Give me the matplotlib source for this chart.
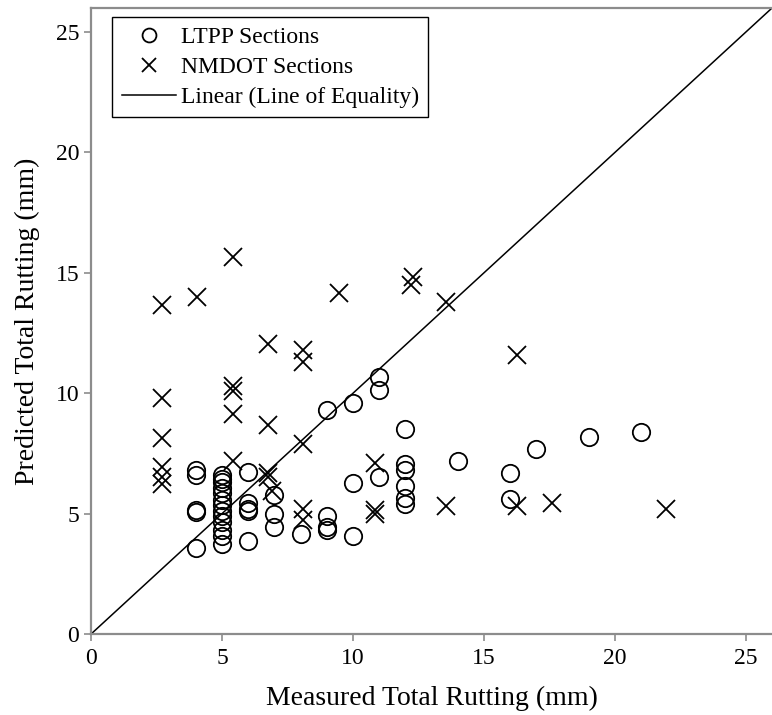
import numpy as np
import matplotlib.pyplot as plt

plt.rcParams['font.family'] = ['Liberation Serif', 'DejaVu Serif']

# LTPP sections (measured, predicted) in mm
ltpp_x = [4, 4, 4, 4, 4,
          5, 5, 5, 5, 5, 5, 5, 5, 5, 5, 5, 5, 5,
          6, 6, 6, 6, 6,
          7, 7, 7, 8,
          9, 9, 9, 9,
          10, 10, 10,
          11, 11, 11,
          12, 12, 12, 12, 12, 12,
          14, 16, 16, 17, 19, 21]
ltpp_y = [6.82, 6.62, 5.16, 5.08, 3.56,
          6.61, 6.45, 6.3, 6.06, 5.85, 5.57, 5.37, 5.09, 4.88, 4.67, 4.33, 4.05, 3.75,
          6.72, 5.44, 5.2, 5.12, 3.88,
          5.78, 5.0, 4.45, 4.15,
          9.32, 4.9, 4.46, 4.33,
          9.6, 6.28, 4.05,
          10.68, 10.15, 6.5,
          8.5, 7.05, 6.8, 6.13, 5.64, 5.4,
          7.2, 6.68, 5.6, 7.68, 8.17, 8.38]

# NMDOT sections
nmdot_x = [2.7, 2.7, 2.7, 2.7, 2.7, 2.7,
           4.05,
           5.4, 5.4, 5.4, 5.4, 5.4,
           6.75, 6.75, 6.75, 6.75, 6.9,
           8.1, 8.1, 8.1, 8.1, 8.1,
           9.45,
           10.85, 10.85, 10.85,
           12.2, 12.3,
           13.55, 13.55,
           16.25, 16.25,
           17.6, 21.95]
nmdot_y = [13.65, 9.82, 8.12, 6.95, 6.5, 6.25,
           14.0,
           15.65, 10.3, 10.08, 9.12, 7.17,
           12.05, 8.7, 6.68, 6.5, 5.92,
           11.78, 11.3, 7.9, 5.2, 4.75,
           14.15,
           7.1, 5.15, 5.0,
           14.5, 14.82,
           13.77, 5.3,
           11.58, 5.3,
           5.45, 5.18]

eq_x = [0, 26]
eq_y = [0, 26]

fig = plt.figure(figsize=(7.72, 7.15), dpi=100)
ax = fig.add_axes([0.118, 0.1133, 0.882, 0.8755])

ax.plot(ltpp_x, ltpp_y, 'o', mfc='none', mec='k', ms=12.5, mew=1.3,
        label='LTPP Sections')
ax.plot(nmdot_x, nmdot_y, 'x', color='k', ms=12.5, mew=1.3,
        label='NMDOT Sections')
ax.plot(eq_x, eq_y, '-', color='k', lw=1.1, label='Linear (Line of Equality)')

ax.set_xlim(0, 26)
ax.set_ylim(0, 26)
ax.set_xticks(np.arange(0, 26, 5))
ax.set_yticks(np.arange(0, 26, 5))

for s in ['left', 'bottom', 'top']:
    ax.spines[s].set_color('#8c8c8c')
    ax.spines[s].set_linewidth(1.6)
ax.spines['right'].set_visible(False)
ax.tick_params(colors='#8c8c8c', labelcolor='k', width=1.2, length=5,
               labelsize=17)
ax.tick_params(axis='x', pad=5)

ax.set_xlabel('Measured Total Rutting (mm)', fontsize=20, labelpad=12)
ax.set_ylabel('Predicted Total Rutting (mm)', fontsize=20, labelpad=11)

leg = ax.legend(loc='upper left', bbox_to_anchor=(0.031, 0.985), fontsize=17,
                fancybox=False, edgecolor='k', framealpha=1, markerscale=0.8,
                handlelength=2.3, handletextpad=0.2, borderpad=0.4,
                labelspacing=0.35, borderaxespad=0)
leg.get_frame().set_linewidth(1.0)

fig.savefig('out.png', dpi=100)
